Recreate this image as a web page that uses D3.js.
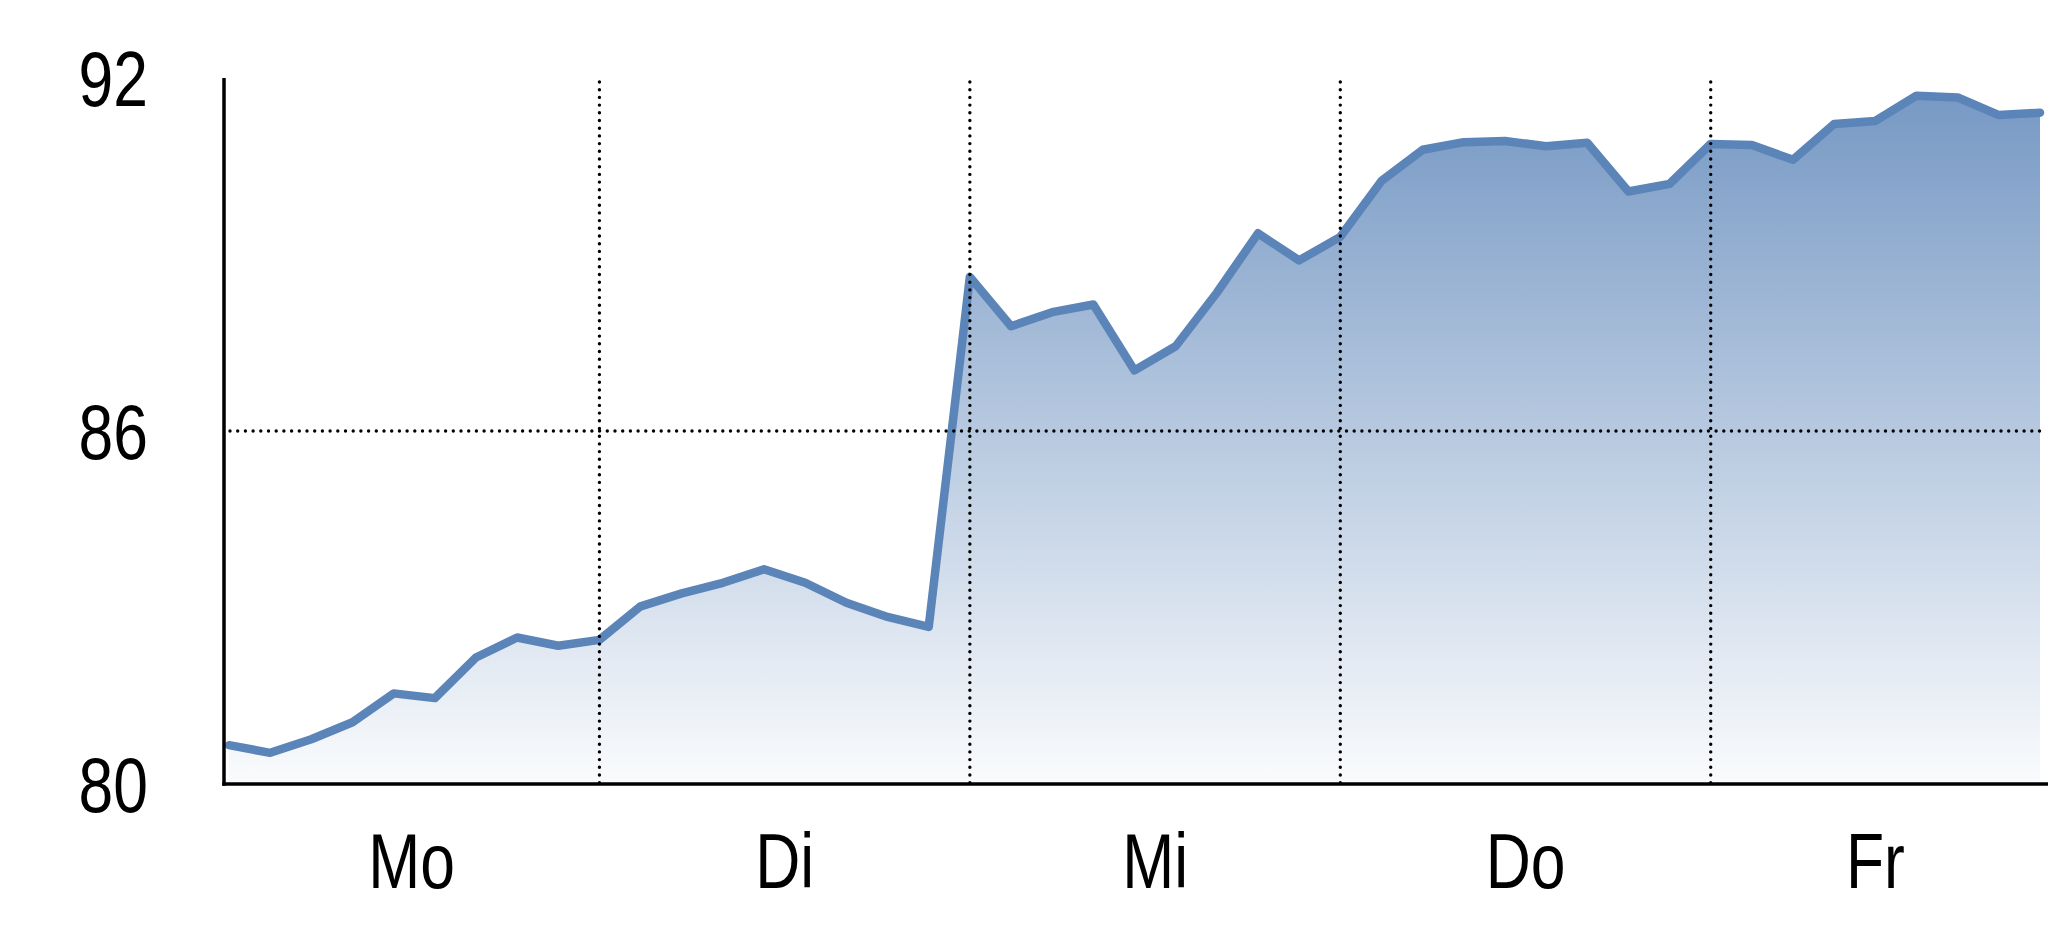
<!DOCTYPE html>
<html>
<head>
<meta charset="utf-8">
<script src="https://cdn.jsdelivr.net/npm/d3@7"></script>
<style>
  html, body { margin: 0; padding: 0; background: #ffffff; }
  svg { display: block; }
  text { font-family: "Liberation Sans", Arial, sans-serif; fill: #000; }
</style>
</head>
<body>
<script>
// ---- data ----
const dayLabels = ["Mo", "Di", "Mi", "Do", "Fr"];
const dayStarts = [0, 9, 18, 27, 36];
const dayEnds = [9, 18, 27, 36, 44];
const yTicks = [80, 86, 92];
const values = [
  80.66, 80.53, 80.76, 81.05, 81.54, 81.46, 82.15, 82.49, 82.35,
  82.45, 83.02, 83.24, 83.42, 83.65, 83.42, 83.08, 82.84, 82.67,
  88.62, 87.78, 88.02, 88.15, 87.03, 87.44, 88.35, 89.36, 88.90,
  89.30, 90.25, 90.78, 90.91, 90.93, 90.84, 90.90, 90.07, 90.20,
  90.88, 90.86, 90.61, 91.22, 91.27, 91.70, 91.67, 91.37, 91.41
];

// ---- layout ----
const W = 2048, H = 937;
const axisX = 224, plotRight = 2046;
const lineColor = "#5b84b8";
const narrow = 0.8;

const svg = d3.select("body").append("svg").attr("width", W).attr("height", H);

const x = d3.scaleLinear().domain([0, values.length - 1]).range([229, 2040]);
const y = d3.scaleLinear().domain([80, 92]).range([784, 78]);

const defs = svg.append("defs");
const grad = defs.append("linearGradient")
  .attr("id", "areaGrad").attr("gradientUnits", "userSpaceOnUse")
  .attr("x1", 0).attr("x2", 0).attr("y1", y(92)).attr("y2", y(80));
grad.append("stop").attr("offset", 0).attr("stop-color", lineColor).attr("stop-opacity", 0.85);
grad.append("stop").attr("offset", 1).attr("stop-color", lineColor).attr("stop-opacity", 0.03);

const data = values.map((v, i) => ({ i, v }));

// area
svg.append("path").datum(data)
  .attr("fill", "url(#areaGrad)")
  .attr("d", d3.area().x(d => x(d.i)).y0(y(80)).y1(d => y(d.v)));

// line
svg.append("path").datum(data)
  .attr("fill", "none")
  .attr("stroke", lineColor)
  .attr("stroke-width", 8.5)
  .attr("stroke-linejoin", "round")
  .attr("stroke-linecap", "round")
  .attr("d", d3.line().x(d => x(d.i)).y(d => y(d.v)));

// dotted grid lines (on top)
const dotted = sel => sel.attr("stroke", "#000").attr("stroke-width", 3.4)
  .attr("stroke-linecap", "round").attr("stroke-dasharray", "0,7.7");

svg.append("g").selectAll("line").data(dayStarts.slice(1)).join("line")
  .attr("x1", d => x(d)).attr("x2", d => x(d))
  .attr("y1", y(92) + 4).attr("y2", y(80))
  .call(dotted);

svg.append("g").selectAll("line").data([86]).join("line")
  .attr("x1", axisX + 6).attr("x2", plotRight)
  .attr("y1", d => y(d)).attr("y2", d => y(d))
  .call(dotted);

// axes lines
svg.append("line").attr("x1", axisX).attr("x2", axisX)
  .attr("y1", y(92)).attr("y2", y(80) + 1.75)
  .attr("stroke", "#000").attr("stroke-width", 3.5);
svg.append("line").attr("x1", axisX - 1.75).attr("x2", plotRight + 2)
  .attr("y1", y(80)).attr("y2", y(80))
  .attr("stroke", "#000").attr("stroke-width", 3.5);

// y tick labels
svg.append("g").selectAll("text").data(yTicks).join("text")
  .attr("transform", d => `translate(148,${y(d) + 28}) scale(${narrow},1)`)
  .attr("text-anchor", "end")
  .attr("font-size", 78)
  .text(d => d);

// x day labels
svg.append("g").selectAll("text").data(dayLabels).join("text")
  .attr("transform", (d, k) => {
    const cx = k === 0 ? (axisX + x(dayEnds[0])) / 2 : x((dayStarts[k] + dayEnds[k]) / 2);
    return `translate(${cx},888) scale(${narrow},1)`;
  })
  .attr("text-anchor", "middle")
  .attr("font-size", 78)
  .text(d => d);
</script>
</body>
</html>
